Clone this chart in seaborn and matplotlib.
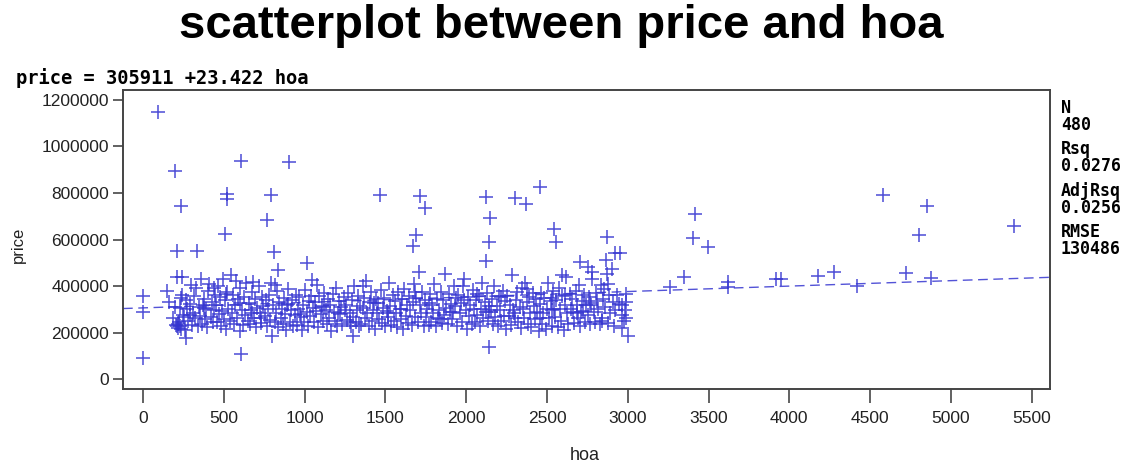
import numpy as np
import pandas as pd
import matplotlib
matplotlib.use("Agg")
import matplotlib.pyplot as plt
import seaborn as sns

# ---------------- data ----------------
# dense cluster (hoa, price in thousands)
cluster_hoa = [
    160,185,198,205,210,214,218,222,226,230,236,241,247,
    255,262,268,274,281,288,294,301,309,316,322,330,338,345,
    352,358,365,371,378,384,391,397,404,410,418,425,432,440,447,
    452,458,463,470,476,483,489,495,502,508,515,521,528,536,544,
    552,558,565,571,578,584,590,597,603,610,617,624,632,640,647,
    655,661,668,674,681,688,694,701,708,716,722,730,737,744,
    752,758,765,772,779,786,792,799,806,814,821,828,835,843,
    851,858,866,872,879,886,893,900,908,915,922,930,938,946,
    953,960,968,975,982,989,996,1004,1012,1019,1027,1034,1042,1049,
    1056,1063,1070,1078,1085,1092,1100,1107,1114,1122,1130,1137,1144,
    1152,1159,1166,1174,1181,1189,1196,1203,1211,1218,1226,1234,1241,1248,
    1256,1263,1270,1278,1285,1292,1300,1307,1315,1322,1330,1338,1345,
    1352,1359,1367,1374,1381,1389,1396,1404,1411,1419,1426,1434,1441,1448,
    1455,1462,1470,1477,1484,1492,1499,1507,1514,1522,1529,1537,1544,
    1551,1558,1566,1573,1580,1588,1595,1603,1610,1618,1625,1633,1640,1647,
    1655,1662,1669,1677,1684,1692,1699,1707,1714,1722,1729,1737,1744,
    1752,1759,1767,1774,1781,1789,1796,1803,1811,1818,1826,1834,1841,1848,
    1856,1863,1870,1878,1885,1892,1900,1907,1914,1922,1929,1937,1944,
    1952,1959,1967,1974,1981,1989,1996,2004,2011,2018,2026,2034,2041,2048,
    2055,2062,2069,2077,2084,2092,2099,2107,2114,2122,2129,2137,2144,
    2152,2159,2166,2174,2181,2189,2196,2204,2211,2218,2226,2234,2241,2248,
    2255,2262,2269,2277,2284,2292,2299,2307,2314,2322,2330,2337,2344,
    2352,2359,2366,2374,2381,2389,2396,2404,2411,2418,2426,2434,2441,2448,
    2455,2462,2469,2477,2484,2492,2499,2507,2514,2522,2529,2537,2544,
    2551,2558,2566,2573,2580,2588,2595,2603,2610,2618,2625,2633,2640,2647,
    2655,2662,2669,2677,2684,2692,2699,2707,2714,2722,2729,2737,2744,
    2752,2759,2767,2774,2781,2789,2796,2803,2811,2818,2826,2834,2841,2848,
    2855,2862,2870,2878,2885,2892,2900,2910,2922,2935,2948,2962,2975,2990,
    232,289,377,441,512,598,676,733,818,897,973,1046,1118,1207,1283,1361,
    1432,1518,1596,1683,1768,1837,1918,1987,2066,2143,2218,2297,2376,2457,
    2533,2611,2688,2769,2843,2917,2966,2878,2710,2530,
    2865,2756,2776,2593,2989,2983,2986,
]
cluster_price_k = [
    330,262,308,232,226,238,221,244,229,305,214,360,276,
    268,212,338,300,248,322,405,232,282,356,264,390,226,310,
    272,428,236,318,346,256,300,222,380,410,268,332,244,296,362,
    318,244,402,278,352,226,292,430,258,338,214,376,300,248,448,
    282,360,236,318,420,262,344,206,390,298,232,352,274,412,250,
    326,236,296,376,418,262,346,224,306,398,282,240,354,316,
    270,338,228,302,362,252,412,186,318,246,286,380,224,330,
    264,302,236,350,278,212,320,388,246,296,340,228,274,362,
    232,300,352,268,212,318,246,382,290,226,336,270,358,304,
    246,330,292,404,224,356,278,316,250,372,298,236,344,
    262,318,208,366,290,248,392,226,334,280,310,238,352,296,
    320,254,372,286,226,340,268,402,244,298,356,226,314,
    238,306,348,262,420,284,226,330,374,250,298,216,344,282,
    328,260,384,240,306,348,226,292,268,412,316,232,362,
    248,336,282,222,376,300,258,344,214,388,270,318,242,356,
    296,232,330,410,266,350,244,462,318,286,374,228,340,
    268,300,232,364,246,320,282,408,226,342,262,298,376,240,
    338,276,452,304,236,366,290,324,258,398,312,348,228,
    362,286,326,246,400,340,298,214,352,270,318,236,384,302,
    244,338,276,356,226,300,412,262,330,290,372,248,316,
    288,346,236,402,268,316,226,358,296,250,380,270,334,214,
    356,272,318,232,446,298,262,340,374,246,310,220,392,
    300,264,412,330,238,354,284,222,368,316,256,342,290,206,
    324,370,236,286,350,214,300,414,262,336,228,378,302,
    268,338,224,392,300,250,356,212,318,440,282,236,364,300,
    346,288,240,380,318,262,406,230,336,292,360,246,320,
    274,352,236,318,428,290,246,372,336,300,236,404,264,346,
    388,310,452,240,362,286,474,330,298,360,322,276,248,364,
    350,276,304,390,366,328,284,262,404,322,278,426,310,282,244,398,
    328,282,300,376,326,256,290,432,364,296,352,286,388,262,
    298,362,282,328,250,226,318,410,290,350,
    512,481,462,448,333,298,263,
]

# isolated points (hoa, price in thousands)
outlier_hoa = [
    93, 198, 235, 208, 332, 606, 903, 520, 520, 790, 765, 507, 812, 834, 1013,
    0, 0, 0, 147, 208, 239, 606, 264,
    1468, 1716, 1745, 1691, 1671, 2121, 2145, 2139, 2124, 2302, 2368, 2458,
    2541, 2554, 2141, 2706, 1300,
    2871, 2921, 2952, 2999, 2966, 3261, 3346, 3416, 3402, 3498, 3618, 3618,
    3917, 3948, 4175, 4278, 4416, 4581, 4720, 4802, 4850, 4875, 5392,
]
outlier_price_k = [
    1148, 895, 745, 552, 552, 939, 935, 795, 773, 791, 684, 624, 546, 468, 497,
    359, 288, 90, 378, 438, 438, 109, 176,
    791, 788, 737, 620, 571, 783, 694, 591, 507, 780, 753, 825,
    646, 589, 139, 504, 187,
    611, 543, 543, 187, 219, 397, 440, 710, 606, 567, 419, 395,
    432, 432, 444, 462, 402, 791, 454, 619, 746, 434, 659,
]

intercept = 305911
slope = 23.422
stat_names = ["N", "Rsq", "AdjRsq", "RMSE"]
stat_values = ["480", "0.0276", "0.0256", "130486"]

x_ticks = [0, 500, 1000, 1500, 2000, 2500, 3000, 3500, 4000, 4500, 5000, 5500]
y_ticks = [0, 200000, 400000, 600000, 800000, 1000000, 1200000]

hoa = np.array(cluster_hoa + outlier_hoa, dtype=float)
price = np.array(cluster_price_k + outlier_price_k, dtype=float) * 1000
df = pd.DataFrame({"hoa": hoa, "price": price})

# ---------------- plot ----------------
sns.set_style("white")
plt.rcParams["font.family"] = ["Liberation Sans", "DejaVu Sans"]

W, H = 1135, 468
fig = plt.figure(figsize=(W / 100, H / 100), dpi=100)
ax = fig.add_axes([123 / W, 1 - 389 / H, (1050 - 123) / W, (389 - 90) / H])

blue = "#3535d0"
xlim = (-124, 5613)
ylim = (-43000, 1243000)

sns.scatterplot(data=df, x="hoa", y="price", marker="+", s=100, color=blue,
                linewidth=1.15, alpha=0.85, ax=ax, legend=False, zorder=3)

line_x = np.array(xlim, dtype=float)
ax.plot(line_x, intercept + slope * line_x, color=blue, lw=1.0,
        dashes=(7, 4), alpha=0.85, zorder=2)

ax.set_xlim(*xlim)
ax.set_ylim(*ylim)
ax.set_xticks(x_ticks)
ax.set_yticks(y_ticks)
ax.set_xticklabels([str(t) for t in x_ticks], fontsize=12.5, color="#222222")
ax.set_yticklabels([str(t) for t in y_ticks], fontsize=12.5, color="#222222")
ax.tick_params(axis="x", direction="out", length=10, width=1.3, color="#555555", pad=6, bottom=True)
ax.tick_params(axis="y", direction="out", length=7, width=1.3, color="#555555", pad=3, left=True)
for sp in ax.spines.values():
    sp.set_color("#444444")
    sp.set_linewidth(1.4)
ax.set_xlabel("")
ax.set_ylabel("")

fig.text(18 / W, 1 - 245 / H, "price", rotation=90, ha="center", va="center",
         fontsize=12, color="#222222")
fig.text(585 / W, 1 - 455 / H, "hoa", ha="center", va="center",
         fontsize=13, color="#222222")

fig.text(561 / W, 1 - 26 / H, "scatterplot between price and hoa",
         ha="center", va="center", fontsize=34, fontweight="bold", color="black")

mono = "DejaVu Sans Mono"
fig.text(16 / W, 1 - 78 / H, f"price = {intercept} +{slope} hoa", ha="left", va="center",
         fontsize=13.5, fontweight="bold", family=mono, color="black")

for i, (nm, val) in enumerate(zip(stat_names, stat_values)):
    y0 = 108 + i * 41.3
    fig.text(1061 / W, 1 - y0 / H, nm, ha="left", va="center", fontsize=12,
             fontweight="bold", family=mono, color="black")
    fig.text(1061 / W, 1 - (y0 + 17) / H, val, ha="left", va="center", fontsize=12,
             fontweight="bold", family=mono, color="black")

fig.savefig("out.png", dpi=100)
